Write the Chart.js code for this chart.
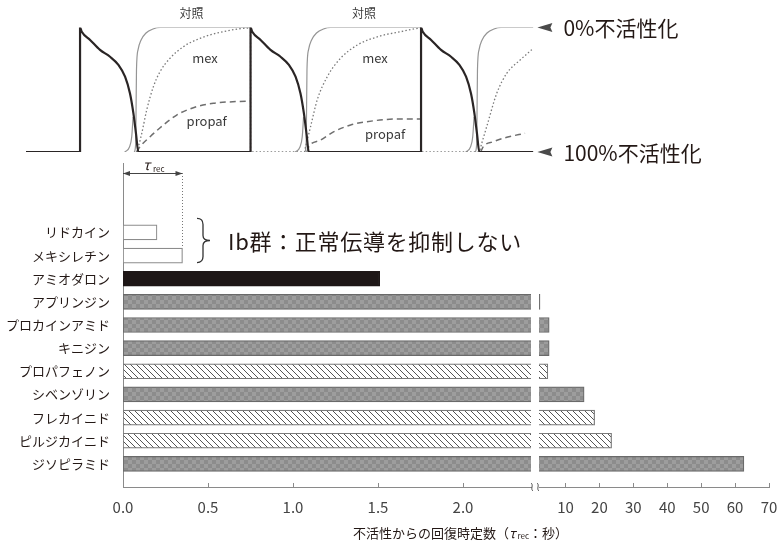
<!DOCTYPE html>
<html lang="ja">
<head>
<meta charset="utf-8">
<title>不活性化からの回復時定数</title>
<script src="https://cdn.jsdelivr.net/npm/chart.js@4.4.1/dist/chart.umd.min.js"></script>
<style>
  html, body { margin: 0; padding: 0; background: #fff; }
  #wrap { position: relative; width: 780px; height: 542px; }
  #wrap canvas { position: absolute; left: 0; top: 0; }
</style>
</head>
<body>
<div id="wrap">
  <canvas id="chartWave" width="780" height="542"></canvas>
  <canvas id="chartLeft" width="780" height="542"></canvas>
  <canvas id="chartRight" width="780" height="542"></canvas>
</div>
<script>
// 薬剤と不活性化からの回復時定数（秒）
const drugs = ['リドカイン', 'メキシレチン', 'アミオダロン', 'アプリンジン', 'プロカインアミド', 'キニジン',
  'プロパフェノン', 'シベンゾリン', 'フレカイニド', 'ピルジカイニド', 'ジソピラミド'];
const tauRec = [0.2, 0.35, 1.51, 2.5, 5.2, 5.2, 4.8, 15.5, 18.6, 23.6, 62.6];
const barKind = ['open', 'open', 'solid', 'check', 'check', 'check', 'hatch', 'check', 'hatch', 'hatch', 'check'];

// 途中で切れている横軸
const leftTicks = [0, 0.5, 1.0, 1.5, 2.0];
const leftMax = 2.4;
const rightTicks = [10, 20, 30, 40, 50, 60, 70];
const rightMin = 2.2;
const rightMax = 70;

// 上段の模式図（時間 ms, 値 %）
const beats = [0, 1000, 2000];
const waveRange = [-317, 2659];
const apShape = [[0, 0], [0, 100], [10, 96.6], [59, 90], [117, 82], [176, 76.5], [225, 70], [264, 60.5],
  [293, 47], [313, 31], [328, 15], [342, 0]];
const controlHook = [[262, 0], [290, 4], [303, 12], [311, 28]];
const controlRise = [[318, 0], [326, 6], [328, 26], [331, 66], [340, 82], [358, 90], [387, 95.6], [428, 98.8], [469, 100]];
const mexCurve = [[330, 0], [342, 4.3], [362, 15], [391, 33.7], [430, 52.4], [469, 64.5], [528, 75.3], [606, 84.6],
  [704, 91.3], [821, 96.1], [1000, 99.6], [1000, 0], [1315, 0], [1323, 4.3], [1352, 20.3], [1391, 41.8],
  [1450, 60.5], [1528, 75.3], [1626, 85.9], [1762, 93.2], [1880, 96.6], [2000, 99.4], [2000, 0], [2340, 0],
  [2356, 7], [2385, 20.3], [2444, 47.1], [2503, 63.2], [2581, 73.9], [2659, 83.3]];
const propafCurve = [[332, 0], [352, 4.3], [411, 12.3], [489, 21.7], [567, 29.7], [665, 35.6], [782, 39.1], [1000, 41],
  [1000, null], [1330, 0], [1342, 4.3], [1411, 9.6], [1489, 16.3], [1587, 21.7], [1723, 25.1], [1860, 26.5], [2000, 26.5],
  [2000, null], [2350, 0], [2365, 4.3], [2424, 8.3], [2503, 11.8], [2610, 15]];
const levelLabels = ['0%不活性化', '100%不活性化'];

const JP = '"Noto Sans CJK JP", "Noto Sans", sans-serif';
const INK = '#231815';

// 点列を作る
function pts(list, shift) {
  return list.map(p => ({ x: p[0] + (shift || 0), y: p[1] }));
}
function apData() {
  let out = [{ x: waveRange[0], y: 0 }];
  beats.forEach(b => { out = out.concat(pts(apShape, b)); });
  out.push({ x: waveRange[1], y: 0 });
  return out;
}
function controlData() {
  let out = [];
  beats.forEach((b, i) => {
    out = out.concat(pts(controlHook, b));
    out.push({ x: b + 315, y: null });
    out = out.concat(pts(controlRise, b));
    const end = i < beats.length - 1 ? beats[i + 1] : waveRange[1];
    out.push({ x: end, y: 100 });
    out.push({ x: end, y: null });
  });
  return out;
}

// 上段の文字と矢印
const waveDecor = {
  id: 'waveDecor',
  afterDraw(chart) {
    const { ctx, chartArea } = chart;
    const x = chart.scales.x, y = chart.scales.y;
    ctx.save();
    ctx.textAlign = 'center';
    ctx.textBaseline = 'middle';
    ctx.fillStyle = '#3a3a3a';
    ctx.font = '12px ' + JP;
    [654, 1666].forEach(t => ctx.fillText('対照', x.getPixelForValue(t), y.getPixelForValue(111.6)));
    ctx.font = '13px ' + JP;
    [[733, 75.5], [1730, 75.5]].forEach(p => ctx.fillText('mex', x.getPixelForValue(p[0]), y.getPixelForValue(p[1])));
    [[743, 24.9], [1789, 14.5]].forEach(p => ctx.fillText('propaf', x.getPixelForValue(p[0]), y.getPixelForValue(p[1])));

    const r = chartArea.right;
    ctx.textAlign = 'left';
    ctx.font = '21px ' + JP;
    [100, 0].forEach((v, i) => {
      const py = y.getPixelForValue(v);
      ctx.fillStyle = '#4a4a4a';
      ctx.beginPath();
      ctx.moveTo(r + 4, py);
      ctx.lineTo(r + 19, py - 4.5);
      ctx.lineTo(r + 17, py);
      ctx.lineTo(r + 19, py + 4.5);
      ctx.closePath();
      ctx.fill();
      ctx.fillStyle = INK;
      ctx.fillText(levelLabels[i], r + 30, py + 1);
    });
    ctx.restore();
  }
};

new Chart(document.getElementById('chartWave'), {
  type: 'scatter',
  data: {
    datasets: [
      { data: apData(), showLine: true, borderColor: '#2a2525', borderWidth: 2.2, pointRadius: 0, cubicInterpolationMode: 'monotone' },
      { data: pts(mexCurve), showLine: true, borderColor: '#7a7a7a', borderWidth: 1.3, borderDash: [1.5, 2.2], pointRadius: 0, cubicInterpolationMode: 'monotone' },
      { data: pts(propafCurve), showLine: true, borderColor: '#6e6e6e', borderWidth: 1.5, borderDash: [6, 4], pointRadius: 0, cubicInterpolationMode: 'monotone' },
      { data: controlData(), showLine: true, borderColor: '#959595', borderWidth: 1.2, pointRadius: 0, cubicInterpolationMode: 'monotone' }
    ]
  },
  options: {
    responsive: false,
    animation: false,
    events: [],
    layout: { padding: { left: 26, right: 246.6, top: 27.5, bottom: 390 } },
    plugins: { legend: { display: false }, tooltip: { enabled: false } },
    scales: {
      x: { type: 'linear', display: false, min: waveRange[0], max: waveRange[1] },
      y: { type: 'linear', display: false, min: 0, max: 100 }
    }
  },
  plugins: [waveDecor]
});

// 棒の塗り
function checkPattern() {
  const c = document.createElement('canvas');
  c.width = 8; c.height = 8;
  const g = c.getContext('2d');
  g.fillStyle = '#9d9d9d'; g.fillRect(0, 0, 8, 8);
  g.fillStyle = '#8c8c8c'; g.fillRect(0, 0, 4, 4); g.fillRect(4, 4, 4, 4);
  return g.createPattern(c, 'repeat');
}
function hatchPattern() {
  const s = 6;
  const c = document.createElement('canvas');
  c.width = s; c.height = s;
  const g = c.getContext('2d');
  g.fillStyle = '#fff'; g.fillRect(0, 0, s, s);
  g.strokeStyle = '#555'; g.lineWidth = 1;
  g.beginPath();
  g.moveTo(0, 0); g.lineTo(s, s);
  g.moveTo(-1, s - 1); g.lineTo(1, s + 1);
  g.moveTo(s - 1, -1); g.lineTo(s + 1, 1);
  g.stroke();
  return g.createPattern(c, 'repeat');
}
const kindFill = { open: '#ffffff', solid: '#1e1717', check: checkPattern(), hatch: hatchPattern() };
const kindBorder = { open: '#8c8c8c', solid: '#1e1717', check: '#6a6a6a', hatch: '#7a7a7a' };

// 上に余白用の空の項目を足す
const yLabels = ['', '', ''].concat(drugs, ['']);

// 横軸の目盛り（内向き）と切れ目
function drawAxisMarks(chart, side) {
  const { ctx, chartArea } = chart;
  const x = chart.scales.x;
  const yb = chartArea.bottom;
  ctx.save();
  ctx.strokeStyle = '#8a8a8a';
  ctx.lineWidth = 1;
  x.ticks.forEach(t => {
    if (t.value === 0) return;
    const px = Math.round(x.getPixelForValue(t.value)) + 0.5;
    ctx.beginPath(); ctx.moveTo(px, yb); ctx.lineTo(px, yb - 4); ctx.stroke();
  });
  const bx = side === 'left' ? chartArea.right + 1 : chartArea.left - 1;
  ctx.strokeStyle = '#555';
  ctx.beginPath();
  ctx.moveTo(bx - 1, yb - 4);
  ctx.bezierCurveTo(bx + 2, yb - 2, bx - 2, yb + 2, bx + 1, yb + 4);
  ctx.stroke();
  ctx.restore();
}

const leftDecor = {
  id: 'leftDecor',
  afterDraw(chart) {
    const { ctx, chartArea } = chart;
    const x = chart.scales.x, y = chart.scales.y;
    drawAxisMarks(chart, 'left');
    ctx.save();
    // τrec の矢印
    const mexIdx = drugs.indexOf('メキシレチン');
    const ay = chartArea.top + 10;
    const x0 = x.getPixelForValue(0), x1 = x.getPixelForValue(tauRec[mexIdx]);
    ctx.strokeStyle = '#444'; ctx.fillStyle = '#444'; ctx.lineWidth = 1;
    ctx.beginPath(); ctx.moveTo(x0, ay + 0.5); ctx.lineTo(x1, ay + 0.5); ctx.stroke();
    ctx.beginPath(); ctx.moveTo(x0, ay + 0.5); ctx.lineTo(x0 + 7, ay - 2); ctx.lineTo(x0 + 7, ay + 3); ctx.closePath(); ctx.fill();
    ctx.beginPath(); ctx.moveTo(x1, ay + 0.5); ctx.lineTo(x1 - 7, ay - 2); ctx.lineTo(x1 - 7, ay + 3); ctx.closePath(); ctx.fill();
    ctx.setLineDash([1, 2]);
    ctx.strokeStyle = '#777';
    const barTop = y.getPixelForValue(y.getLabels().indexOf('メキシレチン')) - 7.5;
    ctx.beginPath(); ctx.moveTo(Math.round(x1) - 0.5, ay); ctx.lineTo(Math.round(x1) - 0.5, barTop); ctx.stroke();
    ctx.setLineDash([]);
    ctx.fillStyle = INK;
    ctx.textBaseline = 'alphabetic';
    ctx.textAlign = 'left';
    ctx.font = 'italic 14px ' + JP;
    ctx.fillText('τ', x0 + 20, ay - 3);
    ctx.font = '8px ' + JP;
    ctx.fillText('rec', x0 + 30, ay - 1);

    // Ib群の括弧と説明
    const yA = y.getPixelForValue(y.getLabels().indexOf('リドカイン')) - 14;
    const yB = y.getPixelForValue(y.getLabels().indexOf('メキシレチン')) + 7;
    const ym = (yA + yB) / 2;
    const bx = 197;
    ctx.strokeStyle = '#333'; ctx.lineWidth = 1.3;
    ctx.beginPath();
    ctx.moveTo(bx, yA);
    ctx.quadraticCurveTo(bx + 6, yA, bx + 6, yA + 6);
    ctx.lineTo(bx + 6, ym - 5);
    ctx.quadraticCurveTo(bx + 6, ym, bx + 13, ym);
    ctx.quadraticCurveTo(bx + 6, ym, bx + 6, ym + 5);
    ctx.lineTo(bx + 6, yB - 6);
    ctx.quadraticCurveTo(bx + 6, yB, bx, yB);
    ctx.stroke();
    ctx.font = '22px ' + JP;
    ctx.letterSpacing = '0.7px';
    ctx.textBaseline = 'middle';
    ctx.fillText('Ib群：正常伝導を抑制しない', 228, ym + 1);
    ctx.letterSpacing = '0px';

    // 横軸の表題
    let tx = 353;
    const ty = 533;
    const parts = [['不活性からの回復時定数（', 13, 0], ['τ', 13, 0], [' rec', 8, 3], ['：秒）', 13, 0]];
    parts.forEach(p => {
      ctx.font = (p[0] === 'τ' ? 'italic ' : '') + p[1] + 'px ' + JP;
      ctx.fillText(p[0], tx, ty + p[2]);
      tx += ctx.measureText(p[0]).width;
    });
    ctx.restore();
  }
};

const rightDecor = {
  id: 'rightDecor',
  afterDraw(chart) { drawAxisMarks(chart, 'right'); }
};

function barConfig(side) {
  const isLeft = side === 'left';
  return {
    type: 'bar',
    data: {
      labels: yLabels,
      datasets: [{
        data: drugs.map((d, i) => ({ y: d, x: tauRec[i] })),
        backgroundColor: barKind.map(k => kindFill[k]),
        borderColor: barKind.map(k => kindBorder[k]),
        borderWidth: 1.2,
        borderSkipped: false,
        barThickness: 15,
        clip: 0
      }]
    },
    options: {
      indexAxis: 'y',
      responsive: false,
      animation: false,
      events: [],
      layout: {
        padding: isLeft ? { left: 0, right: 249, top: 163, bottom: 0 } : { left: 539, right: 11, top: 163, bottom: 0 }
      },
      plugins: { legend: { display: false }, tooltip: { enabled: false } },
      scales: {
        y: {
          type: 'category',
          display: isLeft,
          offset: false,
          grid: { display: false, drawTicks: false },
          border: { display: true, color: '#8a8a8a', width: 1 },
          ticks: { padding: 13, color: INK, autoSkip: false, font: { family: JP, size: 13 } },
          afterFit: s => { if (isLeft) s.width = 123; }
        },
        x: {
          type: 'linear',
          min: isLeft ? 0 : rightMin,
          max: isLeft ? leftMax : rightMax,
          grid: { display: false, drawTicks: false },
          border: { display: true, color: '#8a8a8a', width: 1 },
          afterBuildTicks: s => { s.ticks = (isLeft ? leftTicks : rightTicks).map(v => ({ value: v })); },
          ticks: {
            padding: 11,
            color: '#444',
            autoSkip: false,
            maxRotation: 0,
            minRotation: 0,
            font: { family: JP, size: 15 },
            callback: v => isLeft ? Number(v).toFixed(1) : String(v)
          },
          afterFit: s => { s.height = 55; s.paddingLeft = 0; s.paddingRight = 0; }
        }
      }
    },
    plugins: [isLeft ? leftDecor : rightDecor]
  };
}

new Chart(document.getElementById('chartLeft'), barConfig('left'));
new Chart(document.getElementById('chartRight'), barConfig('right'));
</script>
</body>
</html>
